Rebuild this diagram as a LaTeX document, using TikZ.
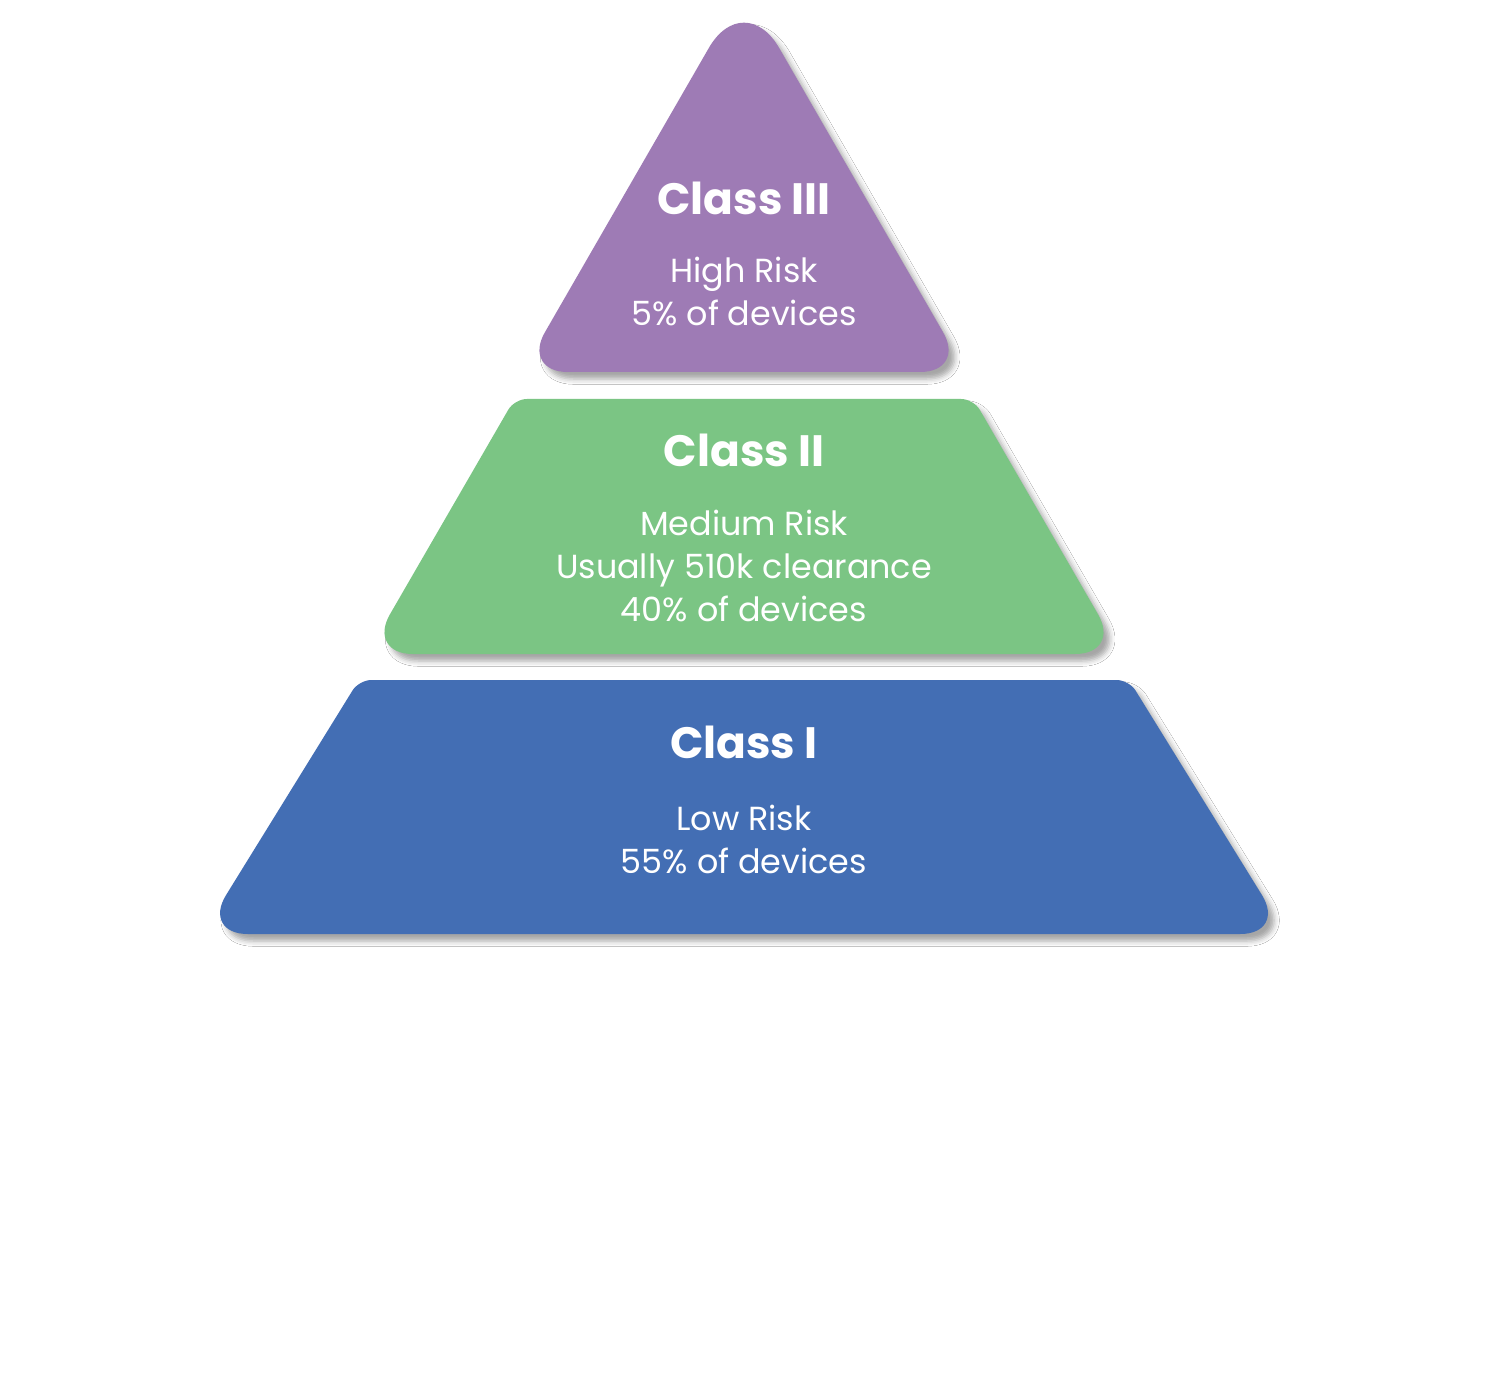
\documentclass[tikz,border=0pt]{standalone}
\usepackage{fontspec}
\setmainfont{Poppins}
\usetikzlibrary{shadows.blur}

\definecolor{highrisk}{HTML}{9E7BB5}
\definecolor{medrisk}{HTML}{7BC584}
\definecolor{lowrisk}{HTML}{436EB4}

\tikzset{
    tier/.style={blur shadow={shadow xshift=3.5pt, shadow yshift=-4pt, shadow blur radius=3pt, shadow opacity=35}},
    classname/.style={anchor=base, text=white, inner sep=0pt, font=\fontsize{25}{30}\selectfont\bfseries},
    classinfo/.style={anchor=north, text=white, inner sep=0pt, align=center, font=\fontsize{19}{24.4}\selectfont}
}

\begin{document}
\begin{tikzpicture}[x=0.02cm, y=-0.02cm]

    \useasboundingbox[fill=white] (0,0) rectangle (1488,1385);

    % tiers, top to bottom
    \fill[tier, highrisk] (744,372) [rounded corners=26pt] -- (522,372) [rounded corners=40pt] -- (744,-13) [rounded corners=26pt] -- (966,372) -- cycle;
    \fill[tier, medrisk] (744,399) [rounded corners=7pt] -- (973.5,399) [rounded corners=26pt] -- (1121,654) -- (367,654) [rounded corners=7pt] -- (514.5,399) -- cycle;
    \fill[tier, lowrisk] (744,680) [rounded corners=7pt] -- (1129,680) [rounded corners=26pt] -- (1286,934) -- (202,934) [rounded corners=7pt] -- (359,680) -- cycle;

    % labels
    \node[classname] (title3) at (744,215) {Class III};
    \node[classinfo] (info3) at (744,257) {High Risk\\5\% of devices};

    \node[classname] (title2) at (744,467) {Class II};
    \node[classinfo] (info2) at (744,510) {Medium Risk\\Usually 510k clearance\\40\% of devices};

    \node[classname] (title1) at (744,758) {Class I};
    \node[classinfo] (info1) at (744,805) {Low Risk\\55\% of devices};

\end{tikzpicture}
\end{document}
